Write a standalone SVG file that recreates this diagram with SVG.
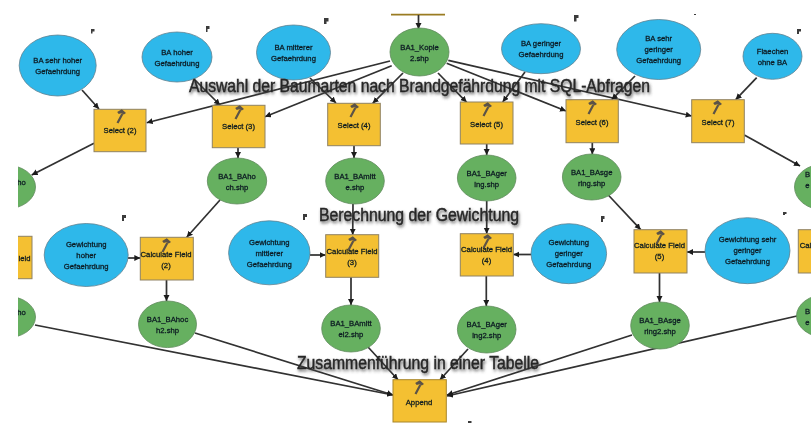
<svg xmlns="http://www.w3.org/2000/svg" xmlns:xlink="http://www.w3.org/1999/xlink" width="811" height="423" viewBox="0 0 811 423">
<style>
text{font-family:"Liberation Sans",Arial,sans-serif;text-anchor:middle;fill:#0c1a22;font-size:7.7px;font-weight:400;stroke:#0c1a22;stroke-width:.28px}
.b{fill:#2fb8ea;stroke:#5f8290;stroke-width:.8}
.g{fill:#66b060;stroke:#5f8a5c;stroke-width:.8}
.y{fill:#f4c030;stroke:#8f8265;stroke-width:1}
.c line{stroke:#303030;stroke-width:1.7;marker-end:url(#a)}
.t{font-size:18px;fill:#262626;stroke:#262626;stroke-width:.45px;filter:url(#s)}
.m{fill:#3a3a3a}
</style>
<defs>
<marker id="a" markerUnits="userSpaceOnUse" markerWidth="7" markerHeight="7" refX="6" refY="3" orient="auto"><path d="M0 0L6 3L0 6z" fill="#1c1c1c"/></marker>
<clipPath id="k"><rect x="18" y="0" width="793" height="423"/></clipPath>
<filter id="f" x="-2%" y="-2%" width="104%" height="104%"><feGaussianBlur stdDeviation=".35"/></filter>
<filter id="s" x="-5%" y="-30%" width="110%" height="170%"><feDropShadow dx="1" dy="2" stdDeviation="1.5" flood-color="#444" flood-opacity=".85"/></filter>
<g id="h"><path d="M-2.500 7L2.300-2" stroke="#5b5247" stroke-width="2.200" fill="none"/><path d="M-2.800-4L1.800-6.800L6-3L3.800-1.400L1.300-2.800L-1.300-2z" fill="#5b5247"/></g>
</defs>
<rect width="811" height="423" fill="#fff"/>
<g clip-path="url(#k)" filter="url(#f)">
<g id="connectors" class="c">
<line x1="391" y1="14.7" x2="445" y2="14.7" style="stroke:#9a7b22;marker-end:none"/>
<line x1="418.500" y1="15" x2="418.500" y2="29"/>
<line x1="82" y1="90" x2="99" y2="109"/>
<line x1="195" y1="80" x2="220" y2="105"/>
<line x1="310" y1="78" x2="336" y2="103"/>
<line x1="390" y1="61" x2="146.700" y2="122.700"/>
<line x1="391.700" y1="65.700" x2="265" y2="116.700"/>
<line x1="403" y1="73" x2="372.700" y2="103.300"/>
<line x1="438" y1="73" x2="466.700" y2="102.300"/>
<line x1="446.700" y1="63.300" x2="566" y2="111"/>
<line x1="448.300" y1="60.300" x2="691.700" y2="116"/>
<line x1="525" y1="72" x2="502.700" y2="102"/>
<line x1="635" y1="76" x2="611.700" y2="99.700"/>
<line x1="756.700" y1="77.700" x2="735.700" y2="99.700"/>
<line x1="94" y1="143.300" x2="31.700" y2="175"/>
<line x1="238" y1="147.700" x2="238" y2="158"/>
<line x1="354" y1="145.700" x2="354" y2="158"/>
<line x1="486.700" y1="144" x2="486.700" y2="155"/>
<line x1="592.300" y1="142.700" x2="592.300" y2="154.300"/>
<line x1="744.300" y1="135" x2="800" y2="166"/>
<line x1="220" y1="200" x2="186.700" y2="237.300"/>
<line x1="353" y1="204" x2="352.700" y2="234.700"/>
<line x1="486.700" y1="201" x2="486.700" y2="233.700"/>
<line x1="608.300" y1="195" x2="640.700" y2="229.700"/>
<line x1="128" y1="258" x2="140.300" y2="258"/>
<line x1="310" y1="255" x2="325.700" y2="255"/>
<line x1="531" y1="254.500" x2="513.300" y2="254.500"/>
<line x1="705" y1="252" x2="687" y2="252"/>
<line x1="166.500" y1="280" x2="166.500" y2="301"/>
<line x1="351" y1="277" x2="351" y2="305"/>
<line x1="486.300" y1="276" x2="486.300" y2="306"/>
<line x1="659.500" y1="273" x2="659.500" y2="302"/>
<line x1="35" y1="325" x2="393" y2="395"/>
<line x1="195" y1="333" x2="393" y2="395"/>
<line x1="368" y1="347" x2="398" y2="379.700"/>
<line x1="468" y1="349" x2="440" y2="379.700"/>
<line x1="632" y1="335" x2="447" y2="395"/>
<line x1="797" y1="316" x2="447" y2="396"/>
</g>
<g id="n_ba_sehr_hoher"><ellipse class="b" cx="57.700" cy="65.500" rx="38.500" ry="30.500"/><text x="57.700" y="63">BA sehr hoher</text><text x="57.700" y="74">Gefaehrdung</text></g>
<g id="n_ba_hoher"><ellipse class="b" cx="177" cy="57" rx="35" ry="25"/><text x="177" y="55">BA hoher</text><text x="177" y="66">Gefaehrdung</text></g>
<g id="n_ba_mittlerer"><ellipse class="b" cx="293.500" cy="52.500" rx="37" ry="27.500"/><text x="293.500" y="50">BA mitterer</text><text x="293.500" y="61">Gefaehrdung</text></g>
<g id="n_kopie"><ellipse class="g" cx="419.500" cy="52" rx="29.500" ry="24"/><text x="419.500" y="50">BA1_Kopie</text><text x="419.500" y="61">2.shp</text></g>
<g id="n_ba_geringer"><ellipse class="b" cx="541" cy="48.700" rx="39.500" ry="25"/><text x="541" y="46">BA geringer</text><text x="541" y="57">Gefaehrdung</text></g>
<g id="n_ba_sehr_geringer"><ellipse class="b" cx="658.700" cy="49.500" rx="42" ry="30"/><text x="658.700" y="41">BA sehr</text><text x="658.700" y="52">geringer</text><text x="658.700" y="63">Gefaehrdung</text></g>
<g id="n_flaechen"><ellipse class="b" cx="772.500" cy="56.300" rx="29.500" ry="23"/><text x="772.500" y="54">Flaechen</text><text x="772.500" y="65">ohne BA</text></g>
<g id="n_select2"><rect class="y" x="94" y="109.300" width="52" height="42.400"/><use xlink:href="#h" x="120" y="116"/><text x="120" y="133">Select (2)</text></g>
<g id="n_select3"><rect class="y" x="212.300" y="105.300" width="52.700" height="42.400"/><use xlink:href="#h" x="238" y="112"/><text x="238.500" y="129">Select (3)</text></g>
<g id="n_select4"><rect class="y" x="327.700" y="103.300" width="52.600" height="42.400"/><use xlink:href="#h" x="353" y="110"/><text x="354" y="127.500">Select (4)</text></g>
<g id="n_select5"><rect class="y" x="460.300" y="102" width="52.700" height="42"/><use xlink:href="#h" x="486" y="109"/><text x="486.500" y="126.500">Select (5)</text></g>
<g id="n_select6"><rect class="y" x="566" y="99.700" width="52.300" height="43"/><use xlink:href="#h" x="591" y="107"/><text x="592" y="124.500">Select (6)</text></g>
<g id="n_select7"><rect class="y" x="691.700" y="99.700" width="52.600" height="43"/><use xlink:href="#h" x="716" y="107"/><text x="718" y="124.500">Select (7)</text></g>
<g id="n_ho"><ellipse class="g" cx="6" cy="187" rx="29.500" ry="22"/><text x="21.500" y="184.500">ho</text></g>
<g id="n_bahoch"><ellipse class="g" cx="237" cy="181" rx="29.700" ry="23"/><text x="237" y="178.500">BA1_BAho</text><text x="237" y="189.500">ch.shp</text></g>
<g id="n_bamitte"><ellipse class="g" cx="355" cy="181" rx="29.300" ry="23"/><text x="355" y="178.500">BA1_BAmitt</text><text x="355" y="189.500">e.shp</text></g>
<g id="n_bagering"><ellipse class="g" cx="486.700" cy="178" rx="29.300" ry="23"/><text x="486.700" y="175.500">BA1_BAger</text><text x="486.700" y="186.500">ing.shp</text></g>
<g id="n_basgering"><ellipse class="g" cx="591.700" cy="177" rx="29.300" ry="23"/><text x="591.700" y="174.500">BA1_BAsge</text><text x="591.700" y="185.500">ring.shp</text></g>
<g id="n_right1"><ellipse class="g" cx="824" cy="187" rx="29.500" ry="23"/><text x="807.500" y="177">B</text><text x="807.500" y="188">e</text></g>
<g id="n_cf1"><rect class="y" x="-10" y="236.300" width="42" height="42.400"/><text x="24.500" y="261">ield</text></g>
<g id="n_gew_hoher"><ellipse class="b" cx="86.200" cy="255" rx="42" ry="31.500"/><text x="86.200" y="247">Gewichtung</text><text x="86.200" y="258">hoher</text><text x="86.200" y="269">Gefaehrdung</text></g>
<g id="n_cf2"><rect class="y" x="140.300" y="237.300" width="53" height="42.700"/><use xlink:href="#h" x="165" y="245"/><text x="166" y="256.500">Calculate Field</text><text x="166" y="267.500">(2)</text></g>
<g id="n_gew_mittlerer"><ellipse class="b" cx="269.300" cy="252.800" rx="40.700" ry="32"/><text x="269.300" y="245">Gewichtung</text><text x="269.300" y="256">mittlerer</text><text x="269.300" y="267">Gefaehrdung</text></g>
<g id="n_cf3"><rect class="y" x="325.700" y="234.700" width="53" height="42.600"/><use xlink:href="#h" x="351" y="243"/><text x="352" y="254">Calculate Field</text><text x="352" y="265">(3)</text></g>
<g id="n_cf4"><rect class="y" x="460.300" y="233.700" width="53" height="42.300"/><use xlink:href="#h" x="486" y="241"/><text x="486.500" y="252">Calculate Field</text><text x="486.500" y="263">(4)</text></g>
<g id="n_gew_geringer"><ellipse class="b" cx="568.800" cy="253.700" rx="37.800" ry="30"/><text x="568.800" y="245">Gewichtung</text><text x="568.800" y="256">geringer</text><text x="568.800" y="267">Gefaehrdung</text></g>
<g id="n_cf5"><rect class="y" x="634" y="229.700" width="53" height="43.300"/><use xlink:href="#h" x="659" y="237"/><text x="659.500" y="248">Calculate Field</text><text x="659.500" y="259">(5)</text></g>
<g id="n_gew_sehr"><ellipse class="b" cx="747.500" cy="250.700" rx="42.500" ry="33"/><text x="747.500" y="242">Gewichtung sehr</text><text x="747.500" y="253">geringer</text><text x="747.500" y="264">Gefaehrdung</text></g>
<g id="n_cf6"><rect class="y" x="798.300" y="229.700" width="53" height="43.300"/><text x="805.500" y="248">Cal</text></g>
<g id="n_ho2"><ellipse class="g" cx="6" cy="317" rx="29.500" ry="21"/><text x="21.500" y="315">ho</text></g>
<g id="n_bahoch2"><ellipse class="g" cx="167.500" cy="324.300" rx="29" ry="23.300"/><text x="167.500" y="322">BA1_BAhoc</text><text x="167.500" y="333">h2.shp</text></g>
<g id="n_bamittel2"><ellipse class="g" cx="351" cy="328.500" rx="29.300" ry="23.500"/><text x="351" y="326">BA1_BAmitt</text><text x="351" y="337">el2.shp</text></g>
<g id="n_bagering2"><ellipse class="g" cx="486.700" cy="329.500" rx="29.300" ry="23.500"/><text x="486.700" y="327">BA1_BAger</text><text x="486.700" y="338">ing2.shp</text></g>
<g id="n_basgering2"><ellipse class="g" cx="660" cy="325.500" rx="29.300" ry="23.500"/><text x="660" y="323">BA1_BAsge</text><text x="660" y="334">ring2.shp</text></g>
<g id="n_right2"><ellipse class="g" cx="826" cy="316" rx="29.500" ry="21.500"/><text x="807.500" y="314">B</text><text x="807.500" y="325">e</text></g>
<g id="n_append"><rect class="y" x="393" y="379.700" width="53.300" height="42.300" style="stroke:#a8862a"/><use xlink:href="#h" x="418" y="387"/><text x="419" y="404.500">Append</text></g>
<g id="marks" class="m">
<path d="M91 29h3.500v2.500h-2v2h-1.500z"/><path d="M206 26h3.500v3h-2v3h-1.500z"/><path d="M324 18h4.500v3.500h-2v2.500h-2.500z"/><path d="M574 15h4.500v3h-2v3.500h-2.500z"/><path d="M694 14h2v1h-2z"/><path d="M797 29h4v2.500h-2v2.500h-2z"/>
<path d="M122 215h4v3h-2v3h-2z"/><path d="M303 214h4v3h-2v3h-2z"/><path d="M601 216h3.500v3h-1.500v3h-2z"/><path d="M783 212h3.500v2h-1.500v1h-2z"/><path d="M468 421h3.500v2h-3.500z"/>
</g>
<g id="titles">
<text class="t" x="419.500" y="92" textLength="461" lengthAdjust="spacingAndGlyphs">Auswahl der Baumarten nach Brandgefährdung mit SQL-Abfragen</text>
<text class="t" x="419" y="221" textLength="200" lengthAdjust="spacingAndGlyphs">Berechnung der Gewichtung</text>
<text class="t" x="418" y="369" textLength="242" lengthAdjust="spacingAndGlyphs">Zusammenführung in einer Tabelle</text>
</g>
</g>
</svg>
